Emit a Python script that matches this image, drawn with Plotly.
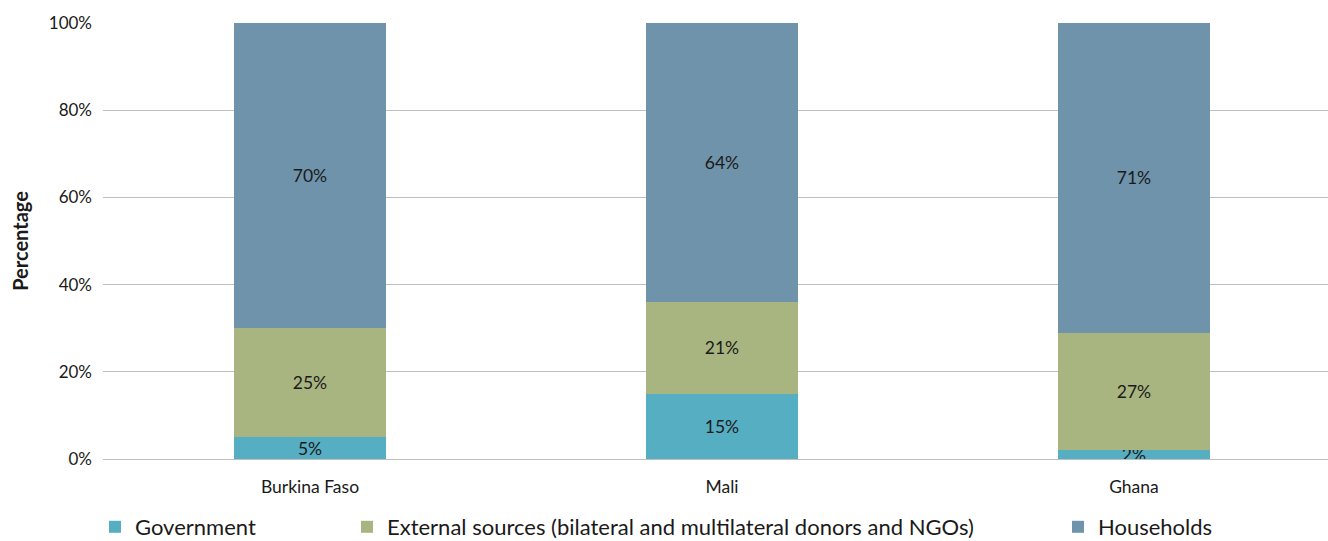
import plotly.graph_objects as go

countries = ["Burkina Faso", "Mali", "Ghana"]
government = [5, 15, 2]
external = [25, 21, 27]
households = [70, 64, 71]

series_names = ["Government",
                "External sources (bilateral and multilateral donors and NGOs)",
                "Households"]
colors = ["#56AEC3", "#A8B580", "#6F93AA"]
y_ticks = [0, 20, 40, 60, 80, 100]

FONT = "Lato, 'Open Sans', sans-serif"

fig = go.Figure()
legends = ["legend", "legend2", "legend3"]
for name, vals, col, lg in zip(series_names, [government, external, households], colors, legends):
    fig.add_trace(go.Bar(
        x=countries, y=vals, name=name, marker=dict(color=col, line=dict(width=0)),
        text=[f"{v}%" for v in vals], textposition="inside", insidetextanchor="middle",
        textangle=0, constraintext="none",
        textfont=dict(family=FONT, size=17.5, color="#1a1a1a"),
        width=0.369, legend=lg, showlegend=True, hoverinfo="skip",
    ))

legend_common = dict(orientation="h", yref="container", y=1 - 527 / 541, yanchor="middle",
                     xref="container", xanchor="left",
                     font=dict(family=FONT, size=22, color="#1a1a1a"),
                     bgcolor="rgba(0,0,0,0)", borderwidth=0, itemclick=False,
                     visible=True)
fig.update_layout(
    barmode="stack",
    showlegend=True,
    width=1328, height=541,
    margin=dict(l=103, r=0, t=23, b=82, autoexpand=False),
    paper_bgcolor="white", plot_bgcolor="white",
    font=dict(family=FONT, size=17, color="#1a1a1a"),
    legend=dict(x=95 / 1328, **legend_common),
    legend2=dict(x=347 / 1328, **legend_common),
    legend3=dict(x=1058 / 1328, **legend_common),
    xaxis=dict(range=[-0.5024, 2.471], showgrid=False, showline=True,
               linecolor="#BFBFBF", linewidth=1, ticks="", tickfont=dict(size=17.5),
               ticklabelstandoff=12, fixedrange=True),
    yaxis=dict(range=[0, 100], tickvals=y_ticks, ticktext=[f"{t}%" for t in y_ticks],
               showgrid=True, gridcolor="#BFBFBF", gridwidth=1, zeroline=False,
               ticks="", tickfont=dict(size=17), ticklabelstandoff=10,
               title=dict(text="<b>Percentage</b>", font=dict(size=20), standoff=14),
               fixedrange=True),
)

fig.write_html("out.html")
